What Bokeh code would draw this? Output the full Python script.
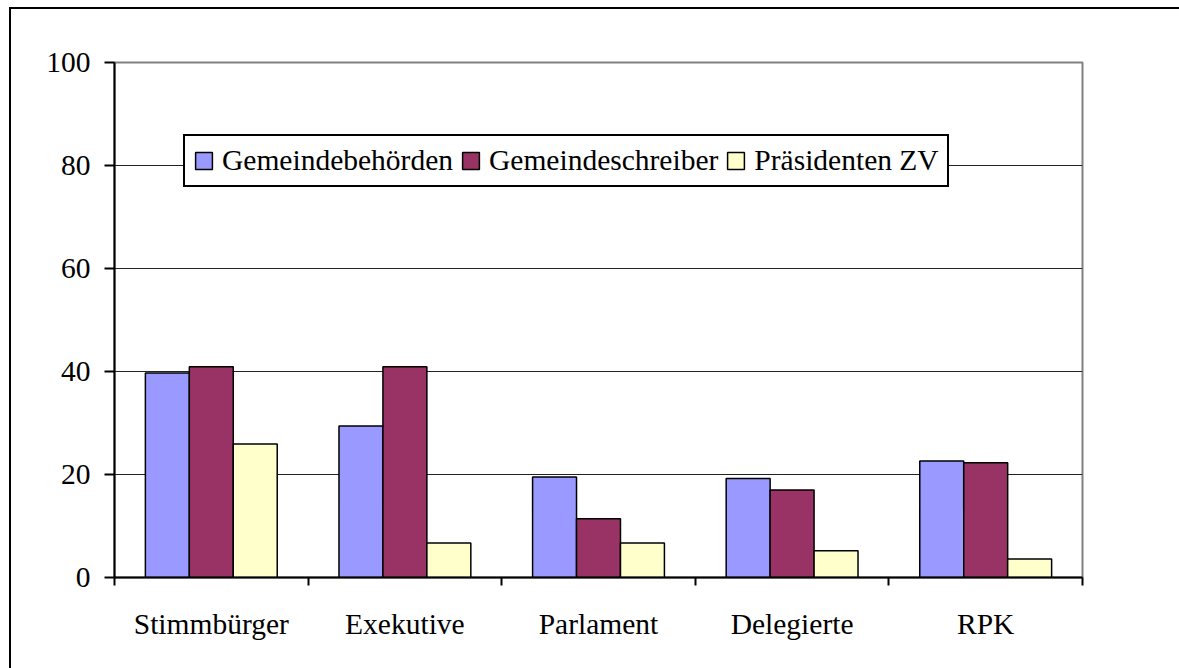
from bokeh.plotting import figure
from bokeh.models import Range1d, FixedTicker, ColumnDataSource, Legend, LegendItem, InlineStyleSheet
from bokeh.embed import file_html
from bokeh.resources import INLINE

categories = ["Stimmbürger", "Exekutive", "Parlament", "Delegierte", "RPK"]
series_names = ["Gemeindebehörden", "Gemeindeschreiber", "Präsidenten ZV"]
gemeindebehoerden = [39.7, 29.4, 19.5, 19.2, 22.6]
gemeindeschreiber = [40.9, 40.9, 11.4, 17.0, 22.3]
praesidenten_zv = [25.9, 6.7, 6.7, 5.2, 3.6]
series_values = [gemeindebehoerden, gemeindeschreiber, praesidenten_zv]
colors = ["#9999FF", "#993366", "#FFFFCC"]
y_ticks = [0, 20, 40, 60, 80, 100]

FONT = "Liberation Serif"
FS = "29.5px"
W, H = 1168, 659

p = figure(width=W, height=H, output_backend="svg", toolbar_location=None,
           x_range=Range1d(0, len(categories)), y_range=Range1d(0, 100),
           min_border_left=103, min_border_right=97, min_border_top=53,
           min_border_bottom=91)
p.styles = {"margin-left": "11px", "margin-top": "9px"}
# outer chart frame: left and top edges (right/bottom lie outside the window)
frame_css = InlineStyleSheet(css="""
:host { position: relative; }
:host::before {
  content: "";
  position: absolute;
  left: -2px; top: -2px;
  width: calc(100% + 2px); height: calc(100% + 2px);
  border-left: 2px solid black;
  border-top: 2px solid black;
  box-sizing: border-box;
  pointer-events: none;
}
""")
p.stylesheets = [frame_css]

p.outline_line_color = "#808080"
p.outline_line_width = 2
p.background_fill_color = "white"
p.border_fill_color = "white"

bar_w = 0.227
renderers = []
for k, vals in enumerate(series_values):
    xs = [i + 0.5 + (k - 1) * bar_w for i in range(len(categories))]
    src = ColumnDataSource(dict(x=xs, top=vals))
    r = p.vbar(x="x", top="top", bottom=0, width=bar_w, source=src,
               fill_color=colors[k], line_color="black", line_width=1.5)
    renderers.append(r)

# x axis: labels at category centres, ticks at category boundaries
xa = p.xaxis[0]
xa.ticker = FixedTicker(ticks=[i + 0.5 for i in range(len(categories))],
                        minor_ticks=list(range(len(categories) + 1)))
xa.major_label_overrides = {i + 0.5: c for i, c in enumerate(categories)}
xa.major_tick_out = 0
xa.major_tick_in = 0
xa.minor_tick_out = 8
xa.minor_tick_in = 0
xa.minor_tick_line_color = "black"
xa.minor_tick_line_width = 2
xa.axis_line_color = "black"
xa.axis_line_width = 2
xa.major_label_text_font = FONT
xa.major_label_text_font_size = FS
xa.major_label_text_color = "black"
xa.major_label_standoff = 22

ya = p.yaxis[0]
ya.ticker = FixedTicker(ticks=y_ticks)
ya.major_tick_out = 10
ya.major_tick_in = 0
ya.minor_tick_out = 0
ya.minor_tick_in = 0
ya.major_tick_line_color = "black"
ya.major_tick_line_width = 2
ya.axis_line_color = "black"
ya.axis_line_width = 2
ya.major_label_text_font = FONT
ya.major_label_text_font_size = FS
ya.major_label_text_color = "black"
ya.major_label_standoff = 14

p.xgrid.visible = False
p.ygrid.grid_line_color = "#222222"
p.ygrid.grid_line_width = 1
p.ygrid.ticker = FixedTicker(ticks=[20, 40, 60, 80])

legend = Legend(items=[LegendItem(label=n, renderers=[r]) for n, r in zip(series_names, renderers)],
                orientation="horizontal", location=(69, 390))
legend.label_text_font = FONT
legend.label_text_font_size = FS
legend.label_text_color = "black"
legend.glyph_width = 21
legend.glyph_height = 21
legend.label_standoff = 8
legend.spacing = 7
legend.padding = 8
legend.margin = 0
legend.border_line_color = "black"
legend.border_line_alpha = 1
legend.border_line_width = 2
legend.background_fill_color = "white"
legend.background_fill_alpha = 1
p.add_layout(legend, "center")

open("out.html", "w").write(file_html(p, INLINE))
